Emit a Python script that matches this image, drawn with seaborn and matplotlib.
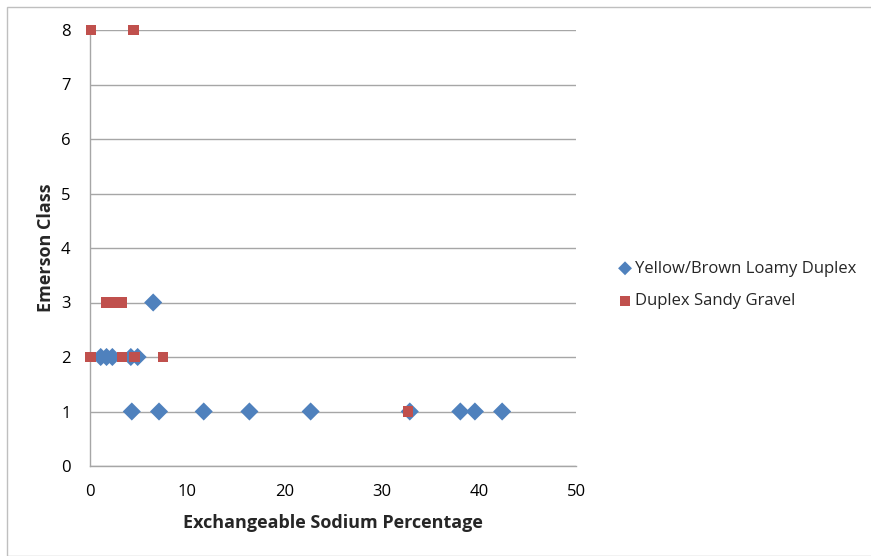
import matplotlib
matplotlib.use("Agg")
import matplotlib.pyplot as plt
import seaborn as sns
import pandas as pd
from matplotlib.patches import Rectangle

# Data
loamy_esp = [4.3, 7.1, 11.7, 16.4, 22.7, 32.9, 38.1, 39.6, 42.4,
             1.1, 1.7, 2.3, 4.2, 4.9, 6.5]
loamy_class = [1, 1, 1, 1, 1, 1, 1, 1, 1,
               2, 2, 2, 2, 2, 3]
gravel_esp = [0.1, 4.5, 1.7, 2.5, 3.3, 0.05, 3.3, 4.6, 7.5, 32.7]
gravel_class = [8, 8, 3, 3, 3, 2, 2, 2, 2, 1]
series_names = ["Yellow/Brown Loamy Duplex", "Duplex Sandy Gravel"]
x_ticks = [0, 10, 20, 30, 40, 50]
y_ticks = [0, 1, 2, 3, 4, 5, 6, 7, 8]

df = pd.concat([
    pd.DataFrame({"ESP": loamy_esp, "Class": loamy_class, "Series": series_names[0]}),
    pd.DataFrame({"ESP": gravel_esp, "Class": gravel_class, "Series": series_names[1]}),
])

sns.set_style("white")
plt.rcParams["font.family"] = ["Open Sans", "DejaVu Sans"]

fig = plt.figure(figsize=(8.71, 5.56), dpi=100)
ax = fig.add_axes([90 / 871, (556 - 466) / 556, (576 - 90) / 871, (466 - 30) / 556])

palette = {series_names[0]: "#4F81BD", series_names[1]: "#C0504D"}
markers = {series_names[0]: "D", series_names[1]: "s"}

for name in series_names:
    sub = df[df["Series"] == name]
    sns.scatterplot(data=sub, x="ESP", y="Class", color=palette[name],
                    marker=markers[name], s=85 if name == series_names[0] else 58,
                    edgecolor="none", linewidth=0, ax=ax, label=name, zorder=3,
                    clip_on=False)

ax.set_xlim(0, 50)
ax.set_ylim(0, 8)
ax.set_xticks(x_ticks)
ax.set_yticks(y_ticks)
ax.yaxis.grid(True, color="#A6A6A6", linewidth=1)
ax.xaxis.grid(False)
ax.set_axisbelow(True)
for side in ["top", "right"]:
    ax.spines[side].set_visible(False)
for side in ["left", "bottom"]:
    ax.spines[side].set_color("#A6A6A6")
    ax.spines[side].set_linewidth(1)
ax.tick_params(axis="both", length=0, labelsize=12, colors="#000000")
ax.tick_params(axis="x", pad=13)
ax.tick_params(axis="y", pad=14)

ax.set_xlabel("Exchangeable Sodium Percentage", fontsize=13, fontweight="bold")
ax.set_ylabel("Emerson Class", fontsize=13, fontweight="bold")
ax.xaxis.set_label_coords(0.5, (466 - 523) / 436, transform=ax.transAxes)
ax.yaxis.set_label_coords((46 - 90) / 486, 0.5, transform=ax.transAxes)
ax.xaxis.label.set_va("center")
ax.yaxis.label.set_va("center")

leg = ax.legend(loc="center left", bbox_to_anchor=(1.07, (466 - 285) / 436), frameon=False,
                fontsize=12, handletextpad=0.1, handlelength=1.0,
                labelspacing=1.0, borderaxespad=0)
for h in leg.legend_handles:
    h.set_sizes([50])

fig.patches.append(Rectangle((7 / 871, 0), 1, 1 - 7 / 556, transform=fig.transFigure,
                             fill=False, edgecolor="#BFBFBF", linewidth=1))

fig.savefig("out.png", dpi=100)
